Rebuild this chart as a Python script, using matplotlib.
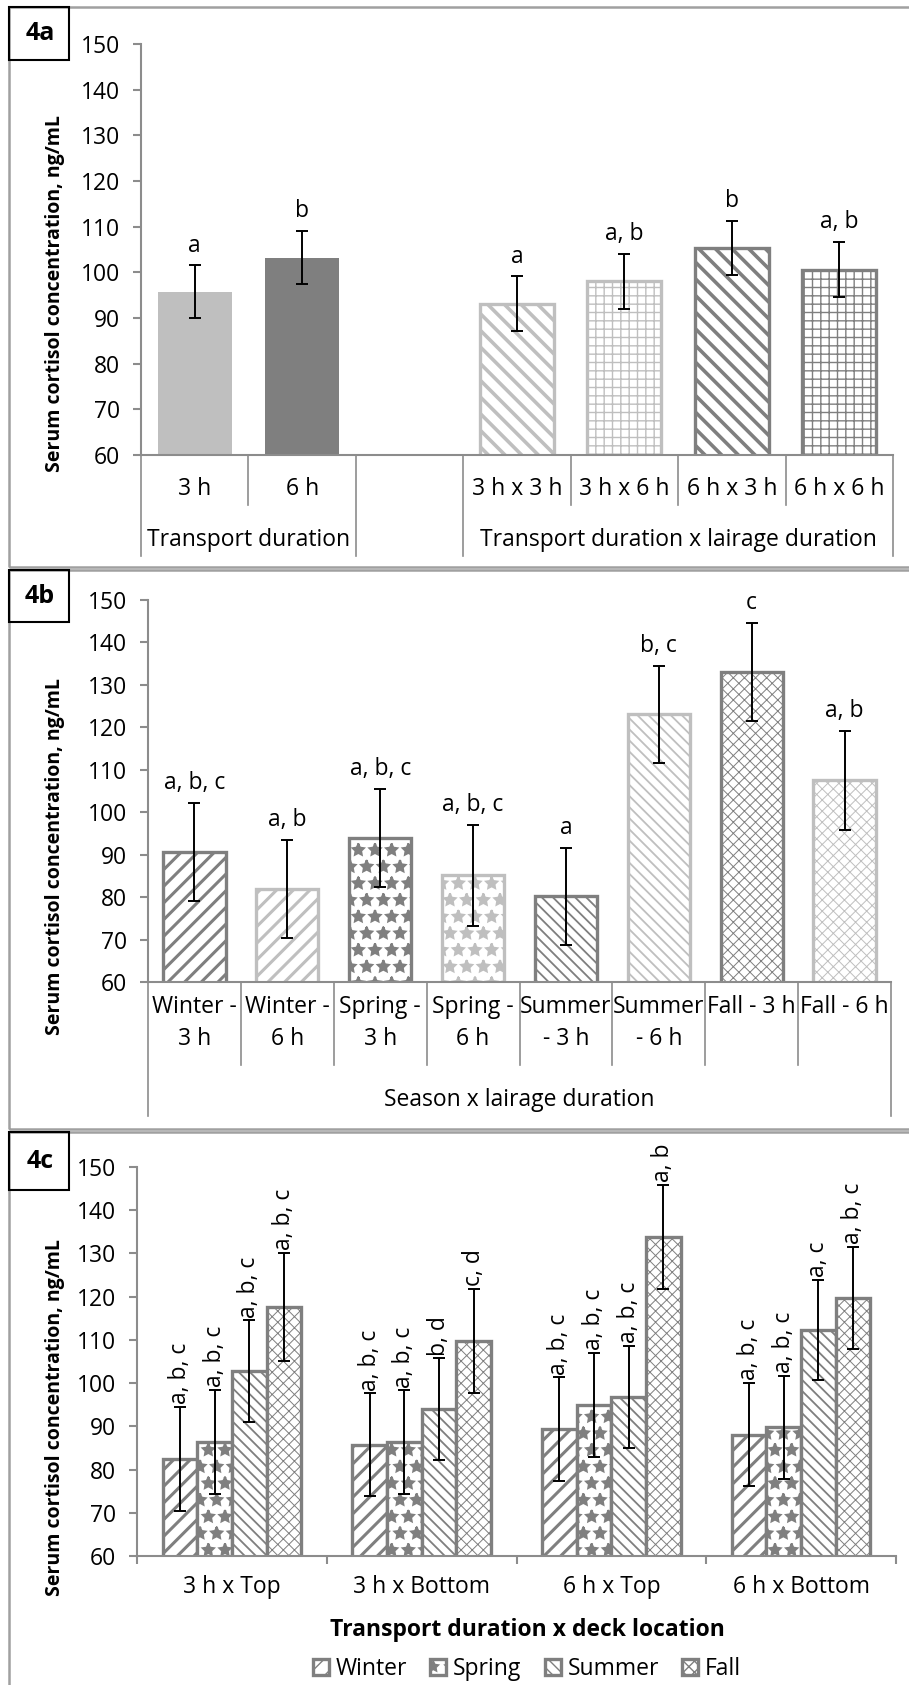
import matplotlib.pyplot as plt
import matplotlib.transforms as mtransforms
from matplotlib.patches import Rectangle

W, H = 909, 1685
LIGHT = '#bfbfbf'
DARK = '#7f7f7f'
AXC = '#8c8c8c'

plt.rcParams['font.family'] = ['Open Sans', 'DejaVu Sans']
plt.rcParams['font.size'] = 16.5

# ---- 4a data
a_cats = ['3 h', '6 h', '3 h x 3 h', '3 h x 6 h', '6 h x 3 h', '6 h x 6 h']
a_vals = [95.7, 103.2, 93.1, 98.0, 105.4, 100.6]
a_err = [5.8, 5.8, 6.0, 6.0, 5.9, 6.0]
a_sig = ['a', 'b', 'a', 'a, b', 'b', 'a, b']
a_groups = ['Transport duration', 'Transport duration x lairage duration']

# ---- 4b data
b_cats = ['Winter -\n3 h', 'Winter -\n6 h', 'Spring -\n3 h', 'Spring -\n6 h',
          'Summer\n- 3 h', 'Summer\n- 6 h', 'Fall - 3 h', 'Fall - 6 h']
b_vals = [90.6, 81.9, 93.9, 85.1, 80.2, 123.1, 133.0, 107.5]
b_err = [11.6, 11.6, 11.5, 12.0, 11.4, 11.4, 11.6, 11.7]
b_sig = ['a, b, c', 'a, b', 'a, b, c', 'a, b, c', 'a', 'b, c', 'c', 'a, b']
b_group = 'Season x lairage duration'

# ---- 4c data
c_groups = ['3 h x Top', '3 h x Bottom', '6 h x Top', '6 h x Bottom']
seasons = ['Winter', 'Spring', 'Summer', 'Fall']
c_winter = [82.5, 85.7, 89.3, 88.1]
c_spring = [86.4, 86.3, 95.0, 89.8]
c_summer = [102.8, 94.0, 96.8, 112.3]
c_fall = [117.7, 109.8, 133.8, 119.8]
c_winter_err = [12.0, 11.9, 12.0, 12.0]
c_spring_err = [12.0, 12.0, 12.0, 11.9]
c_summer_err = [11.7, 11.7, 11.8, 11.6]
c_fall_err = [12.5, 12.0, 12.0, 11.8]
c_winter_sig = ['a, b, c', 'a, b, c', 'a, b, c', 'a, b, c']
c_spring_sig = ['a, b, c', 'a, b, c', 'a, b, c', 'a, b, c']
c_summer_sig = ['a, b, c', 'b, d', 'a, b, c', 'a, c']
c_fall_sig = ['a, b, c', 'c, d', 'a, b', 'a, b, c']

fig = plt.figure(figsize=(W / 100, H / 100), dpi=100)


def add_ax(l, r, t, b):
    return fig.add_axes([l / W, 1 - b / H, (r - l) / W, (b - t) / H])


def style(ax):
    ax.set_ylim(60, 150)
    ax.set_yticks(range(60, 151, 10))
    for s in ['top', 'right']:
        ax.spines[s].set_visible(False)
    for s in ['left', 'bottom']:
        ax.spines[s].set_color(AXC)
        ax.spines[s].set_linewidth(1.5)
    ax.tick_params(axis='y', color=AXC, width=1.5, length=6, labelsize=16.5, pad=9)
    ax.tick_params(axis='x', bottom=False, labelbottom=False)


def hbar(ax, x, h, w, fc, ec, hatch=None, hlw=1.0, lw=2.2, label=None):
    with plt.rc_context({'hatch.linewidth': hlw}):
        bars = ax.bar(x, h, w, color=fc, edgecolor=ec, hatch=hatch, linewidth=lw,
                      label=label, zorder=2)
    for p in bars:
        if hasattr(p, 'set_hatch_linewidth'):
            p.set_hatch_linewidth(hlw)
    return bars


def vline(ax, x, depth):
    tr = mtransforms.blended_transform_factory(ax.transData, ax.transAxes)
    ax.plot([x, x], [0, depth], transform=tr, color=AXC, lw=1.2, clip_on=False)


def panel(y1, y2, tag, ty2):
    fig.add_artist(Rectangle((9 / W, 1 - y2 / H), 910 / W, (y2 - y1) / H,
                             transform=fig.transFigure, fill=False, ec='#a0a0a0', lw=1.8))
    fig.add_artist(Rectangle((9 / W, 1 - ty2 / H), 60 / W, (ty2 - y1) / H,
                             transform=fig.transFigure, fill=False, ec='black', lw=1.5))
    fig.text(40 / W, 1 - (y1 + ty2) / 2 / H, tag, ha='center', va='center',
             fontsize=18, fontweight='bold')


def ylab(yc):
    fig.text(55 / W, 1 - yc / H, 'Serum cortisol concentration, ng/mL', rotation=90,
             ha='center', va='center', fontsize=14, fontweight='bold')


# ================= 4a
panel(7, 567, '4a', 60)
ax = add_ax(141, 893, 44, 455)
style(ax)
ax.set_xlim(-0.5, 6.5)
a_pos = [0, 1, 3, 4, 5, 6]
a_style = [(LIGHT, LIGHT, None, 1, 0), (DARK, DARK, None, 1, 0),
           ('white', LIGHT, '\\\\', 2.6, 2.4), ('white', LIGHT, '++', 1.0, 2.4),
           ('white', DARK, '\\\\', 2.6, 2.4), ('white', DARK, '++', 1.0, 2.4)]
for x, v, st in zip(a_pos, a_vals, a_style):
    hbar(ax, x, v, 0.69, st[0], st[1], st[2], st[3], st[4])
ax.errorbar(a_pos, a_vals, yerr=a_err, fmt='none', ecolor='black', elinewidth=1.4,
            capsize=4.5, capthick=1.4, zorder=5)
for x, v, e, s in zip(a_pos, a_vals, a_err, a_sig):
    ax.annotate(s, (x, v + e), xytext=(0, 10), textcoords='offset points',
                ha='center', va='baseline', fontsize=16.5)
tr = mtransforms.blended_transform_factory(ax.transData, ax.transAxes)
for x, c in zip(a_pos, a_cats):
    ax.text(x, -0.083, c, transform=tr, ha='center', va='center')
for x in [0.5, 3.5, 4.5, 5.5]:
    vline(ax, x, -0.122)
for x in [-0.5, 1.5, 2.5, 6.5]:
    vline(ax, x, -0.246)
ax.text(0.5, -0.207, a_groups[0], transform=tr, ha='center', va='center')
ax.text(4.5, -0.207, a_groups[1], transform=tr, ha='center', va='center')
ylab(294)

# ================= 4b
panel(570, 1129, '4b', 622)
ax = add_ax(148, 891, 600, 982)
style(ax)
ax.set_xlim(-0.5, 7.5)
b_pos = list(range(len(b_cats)))
b_style = [('white', DARK, '//', 2.2), ('white', LIGHT, '//', 2.2),
           ('white', DARK, '*', 1.6), ('white', LIGHT, '*', 1.6),
           ('white', DARK, '\\\\\\', 1.3), ('white', LIGHT, '\\\\\\', 1.3),
           ('white', DARK, 'xxx', 0.7), ('white', LIGHT, 'xxx', 0.7)]
for x, v, st in zip(b_pos, b_vals, b_style):
    hbar(ax, x, v, 0.67, st[0], st[1], st[2], st[3], 2.4)
ax.errorbar(b_pos, b_vals, yerr=b_err, fmt='none', ecolor='black', elinewidth=1.4,
            capsize=4.5, capthick=1.4, zorder=5)
for x, v, e, s in zip(b_pos, b_vals, b_err, b_sig):
    ax.annotate(s, (x, v + e), xytext=(0, 10), textcoords='offset points',
                ha='center', va='baseline', fontsize=16.5)
tr = mtransforms.blended_transform_factory(ax.transData, ax.transAxes)
for x, c in zip(b_pos, b_cats):
    ax.text(x, -0.035, c, transform=tr, ha='center', va='top', linespacing=1.45)
for x in [i + 0.5 for i in range(7)]:
    vline(ax, x, -0.217)
for x in [-0.5, 7.5]:
    vline(ax, x, -0.351)
ax.text(3.5, -0.309, b_group, transform=tr, ha='center', va='center')
ylab(857)

# ================= 4c
panel(1132, 1700, '4c', 1190)
ax = add_ax(137, 896, 1167, 1556)
style(ax)
ax.set_xlim(-0.5, 3.5)
g_pos = list(range(len(c_groups)))
ax.set_xticks(g_pos)
ax.set_xticklabels(c_groups)
ax.tick_params(axis='x', bottom=True, labelbottom=True, length=0, pad=14, labelsize=16.5)
ax.set_xticks([-0.5, 0.5, 1.5, 2.5, 3.5], minor=True)
ax.tick_params(axis='x', which='minor', bottom=True, length=6, width=1.5, color=AXC)
bw = 0.73 / 4
c_vals = [c_winter, c_spring, c_summer, c_fall]
c_errs = [c_winter_err, c_spring_err, c_summer_err, c_fall_err]
c_sigs = [c_winter_sig, c_spring_sig, c_summer_sig, c_fall_sig]
c_style = [('//', 2.2), ('*', 1.6), ('\\\\\\', 1.3), ('xxx', 0.7)]
handles = []
for j, (name, vals, errs, sigs, st) in enumerate(zip(seasons, c_vals, c_errs, c_sigs, c_style)):
    xs = [g + (j - 1.5) * bw for g in g_pos]
    b = hbar(ax, xs, vals, bw, 'white', DARK, st[0], st[1], 2.4, label=name)
    handles.append(b)
    ax.errorbar(xs, vals, yerr=errs, fmt='none', ecolor='black', elinewidth=1.4,
                capsize=4.5, capthick=1.4, zorder=5)
    for x, v, e, s in zip(xs, vals, errs, sigs):
        ax.annotate(s, (x, v + e), xytext=(0, 2), textcoords='offset points',
                    ha='center', va='bottom', rotation=90, fontsize=16.5)
ylab(1418)
fig.text(527 / W, 1 - 1630 / H, 'Transport duration x deck location', ha='center',
         va='center', fontsize=16.5, fontweight='bold')
fig.legend(handles=handles, labels=seasons, loc='center', ncol=4,
           bbox_to_anchor=(527 / W, 1 - 1669 / H), frameon=False, fontsize=16.5,
           handlelength=0.7, handleheight=0.7, handletextpad=0.3, columnspacing=1.0)

fig.savefig('out.png', dpi=100)
